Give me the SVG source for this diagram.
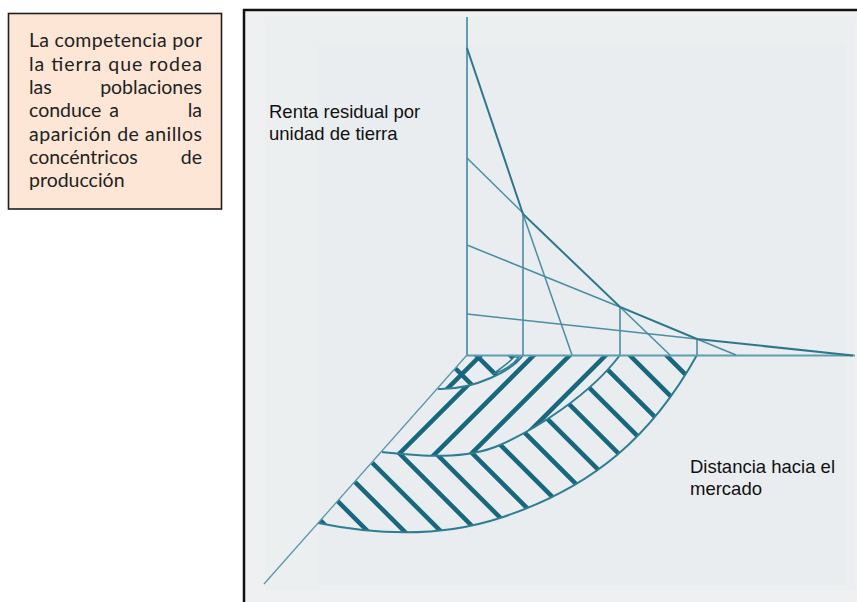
<svg xmlns="http://www.w3.org/2000/svg" width="857" height="602" viewBox="0 0 857 602">
<style>
.box{fill:#fde6d6;stroke:#1e1e1e;stroke-width:1.6}
.bt{font-family:Lato,"Open Sans","Noto Sans",sans-serif;font-size:19.5px;fill:#222}
.ct{font-family:"Liberation Sans",Arial,sans-serif;font-size:18.5px;fill:#111}
.axis{stroke:#5f9db2;stroke-width:2;fill:none}
.thin{stroke:#5a96a9;stroke-width:1.3;fill:none}
.rent{stroke:#4a8ea2;stroke-width:1.5;fill:none}
.env{stroke:#2d778b;stroke-width:2;fill:none}
.drop{stroke:#4b8ea3;stroke-width:1.6;fill:none}
.bd{stroke:#2e7d92;stroke-width:2;fill:none}
.hatch{stroke:#17687e;stroke-width:4.5;fill:none}
</style>
<defs>
<clipPath id="r3"><path d="M620,355 L697,355 C653,434 595,487 500,518 C433.5,539.7 367,533 318,523 L382,452 C417,455.5 464,461 500,445 C536,429 590,395 620,355 Z"/></clipPath>
<clipPath id="r2"><path d="M523,355 L620,355 C590,395 536,429 500,445 C464,461 417,455.5 382,452 L438,389 C475,390 513,370 523,355 Z"/></clipPath>
<clipPath id="r1"><path d="M467,355 L523,355 C513,370 475,390 438,389 Z"/></clipPath>
</defs>

<g id="textbox">
<rect class="box" x="8.5" y="13.5" width="213" height="195.5"/>
<text class="bt" x="29" y="47.3" textLength="173" lengthAdjust="spacing">La competencia por</text>
<text class="bt" x="29" y="70.6" textLength="173" lengthAdjust="spacing">la tierra que rodea</text>
<text class="bt" x="29" y="93.9">las</text>
<text class="bt" x="202" y="93.9" text-anchor="end">poblaciones</text>
<text class="bt" x="29" y="117.2">conduce</text>
<text class="bt" x="114" y="117.2" text-anchor="middle">a</text>
<text class="bt" x="202" y="117.2" text-anchor="end">la</text>
<text class="bt" x="29" y="140.5" textLength="173" lengthAdjust="spacing">aparición de anillos</text>
<text class="bt" x="29" y="163.8">concéntricos</text>
<text class="bt" x="202" y="163.8" text-anchor="end">de</text>
<text class="bt" x="29" y="187.1">producción</text>
</g>

<g id="frame">
<rect x="244" y="10" width="640" height="620" fill="#eff0f1" stroke="#111" stroke-width="2.5"/>
<rect x="265" y="17" width="590" height="573" fill="#ecEff0"/>
<rect x="318" y="45" width="527" height="540" fill="#e9edef"/>
</g>

<g id="labels">
<text class="ct" x="269" y="118.3">Renta residual por</text>
<text class="ct" x="269" y="139.5">unidad de tierra</text>
<text class="ct" x="690" y="473">Distancia hacia el</text>
<text class="ct" x="690" y="495">mercado</text>
</g>

<g id="rings">
<g clip-path="url(#r3)">
<path class="hatch" d="M300,500 L720,920 M300,463.5 L720,883.5 M300,427 L720,847 M300,390.5 L720,810.5 M300,354 L720,774 M300,317.5 L720,737.5 M300,281 L720,701 M300,244.5 L720,664.5 M300,208 L720,628 M300,171.5 L720,591.5 M300,135 L720,555 M300,98.5 L720,518.5 M300,62 L720,482 M300,25.5 L720,445.5 M300,-11 L720,409"/>
</g>
<g clip-path="url(#r2)">
<path class="hatch" d="M380,473 L640,213 M380,509 L640,249 M380,545 L640,285 M380,581 L640,321"/>
</g>
<g clip-path="url(#r1)">
<path class="hatch" d="M420,333 L540,453 M420,299 L540,419 M420,265 L540,385 M420,416 L520,316"/>
</g>
<path class="bd" d="M697,355 C653,434 595,487 500,518 C433.5,539.7 367,533 318,523"/>
<path class="bd" d="M620,355 C590,395 536,429 500,445 C464,461 417,455.5 382,452"/>
<path class="bd" d="M523,355 C513,370 475,390 438,389"/>
<path d="M519,357 C512,366 503,371 493,374 C501,368 509,363 514,357 Z" fill="#e9edef" stroke="#2e7d92" stroke-width="1.5"/>
</g>

<g id="connectors">
<line class="axis" x1="467" y1="17" x2="467" y2="355"/>
<line class="axis" x1="466" y1="355.5" x2="855" y2="355.5"/>
<line class="thin" x1="467" y1="355" x2="264" y2="584"/>
<line class="drop" x1="523" y1="214" x2="523" y2="355"/>
<line class="drop" x1="620" y1="307" x2="620" y2="355"/>
<line class="drop" x1="697" y1="339" x2="697" y2="355"/>
<polyline class="rent" points="523,214 572,355"/>
<polyline class="rent" points="467,158 523,213"/>
<polyline class="rent" points="620,307 670,355"/>
<polyline class="rent" points="467,245 620,307"/>
<polyline class="rent" points="697,339 736,355"/>
<polyline class="rent" points="467,314 697,339"/>
<polyline class="env" points="467,48 523,214 620,307 697,339 853,355.5"/>
</g>
</svg>
